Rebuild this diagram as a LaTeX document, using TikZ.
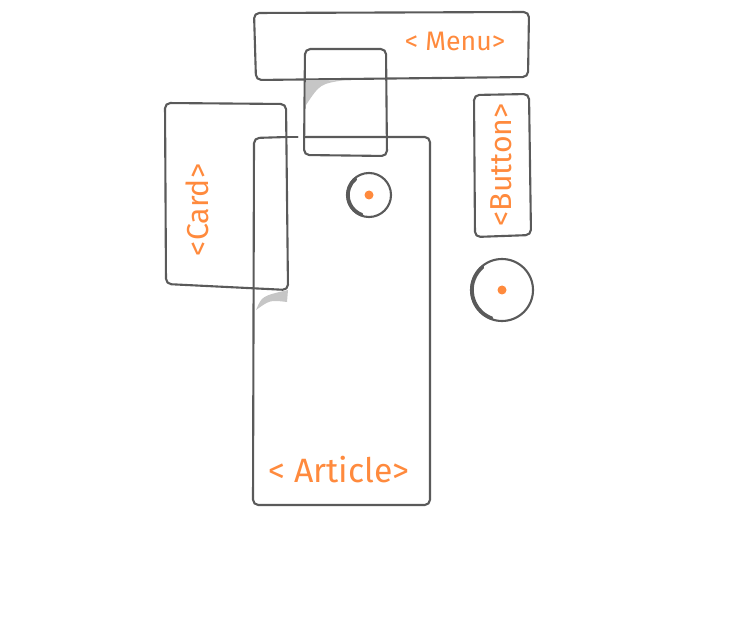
\documentclass[tikz,border=0pt]{standalone}
\usepackage{fontspec}
\setmainfont{Fira Sans}
\usepackage{xcolor}
\definecolor{tagorange}{RGB}{255,138,61}
\definecolor{pencil}{RGB}{90,90,90}
\tikzset{
  sketch/.style={draw=pencil, line width=0.6pt, line join=round, line cap=round, rounded corners=1.5},
  shade/.style={fill=gray!45, draw=none},
  tag/.style={text=tagorange, inner sep=0pt},
}

\begin{document}
\begin{tikzpicture}[x=0.01cm, y=-0.01cm]
    \useasboundingbox (0,0) rectangle (740,640);
    % boxes
    \draw[sketch] (254,13) -- (529,12) -- (528,77) -- (256,80) -- cycle;
    \draw[sketch] (305,49) -- (386,49) -- (387,156) -- (304,155) -- cycle;
    \draw[sketch] (287,137) -- (254,138) -- (253,505) -- (430,505) -- (430,137) -- (304,137);
    \draw[sketch, dashed] (287,137) -- (304,137);
    \draw[sketch] (165,103) -- (286,104) -- (288,290) -- (166,284) -- cycle;
    \draw[sketch] (474,95) -- (529,94) -- (531,235) -- (475,237) -- cycle;
    % paper curls
    \fill[shade] (306,81) -- (345,80) .. controls (320,84) .. (306,105) -- cycle;
    \fill[shade] (256,310) .. controls (262,296) .. (288,290) -- (287,302) .. controls (270,300) .. (256,310);
    % round buttons
    \draw[sketch] (369,195) circle (22);
    \draw[sketch, line width=1pt] (369,195) ++(110:21) arc (110:230:21);
    \fill[tagorange] (369,195) circle (4.5);
    \draw[sketch] (502,290) circle (31);
    \draw[sketch, line width=1pt] (502,290) ++(110:30) arc (110:230:30);
    \fill[tagorange] (502,290) circle (4.5);
    % labels
    \node[tag, font=\fontsize{7.6}{9}\selectfont] (menu) at (455,41) {< Menu>};
    \node[tag, font=\fontsize{8.6}{10}\selectfont, rotate=90] (card) at (197,210) {<Card>};
    \node[tag, font=\fontsize{8.6}{10}\selectfont, rotate=90] (button) at (501,165) {<Button>};
    \node[tag, font=\fontsize{9.6}{11}\selectfont] (article) at (339,470) {< Article>};
\end{tikzpicture}
\end{document}
